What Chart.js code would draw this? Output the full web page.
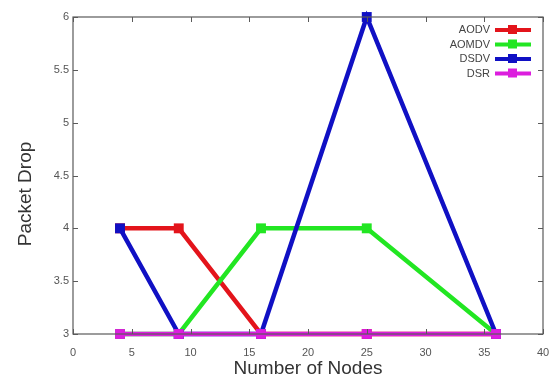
<!DOCTYPE html>
<html lang="en">
<head>
<meta charset="UTF-8">
<title>Packet Drop vs Number of Nodes</title>
<script src="https://cdn.jsdelivr.net/npm/chart.js"></script>
<style>
  html, body { margin: 0; padding: 0; background: #fff; }
  #wrap { width: 560px; height: 380px; }
</style>
</head>
<body>
<div id="wrap"><canvas id="drops" width="560" height="380"></canvas></div>
<script>
// node counts on the x axis
const nodes = [4, 9, 16, 25, 36];

// packet drop per protocol
const aodv  = [4, 4, 3, 3, 3];
const aomdv = [3, 3, 4, 4, 3];
const dsdv  = [4, 3, 3, 6, 3];
const dsr   = [3, 3, 3, 3, 3];

const protocols = ['AODV', 'AOMDV', 'DSDV', 'DSR'];
const colors = ['#e3141b', '#22e622', '#1010c4', '#dc1ede'];
const series = [aodv, aomdv, dsdv, dsr];

const xTicks = [0, 5, 10, 15, 20, 25, 30, 35, 40];
const yTicks = [3, 3.5, 4, 4.5, 5, 5.5, 6];

const tickFamily = '"Liberation Sans Narrow", "Liberation Sans", sans-serif';

// gnuplot-like frame: border with inward ticks on all four sides,
// axis titles and a right-aligned key in the top corner
const framePlugin = {
  id: 'frame',
  afterDatasetsDraw(chart) {
    const { ctx, chartArea: a, scales: { x, y } } = chart;
    ctx.save();
    ctx.strokeStyle = '#5a5a5a';
    ctx.lineWidth = 1.2;
    ctx.strokeRect(a.left, a.top, a.right - a.left, a.bottom - a.top);
    ctx.lineWidth = 1;
    ctx.beginPath();
    xTicks.forEach(v => {
      const px = Math.round(x.getPixelForValue(v)) + 0.5;
      ctx.moveTo(px, a.bottom); ctx.lineTo(px, a.bottom - 5);
      ctx.moveTo(px, a.top); ctx.lineTo(px, a.top + 5);
    });
    yTicks.forEach(v => {
      const py = Math.round(y.getPixelForValue(v)) + 0.5;
      ctx.moveTo(a.left, py); ctx.lineTo(a.left + 5, py);
      ctx.moveTo(a.right, py); ctx.lineTo(a.right - 5, py);
    });
    ctx.stroke();

    // axis titles
    ctx.fillStyle = '#333';
    ctx.font = '19px "Liberation Sans", Arial, sans-serif';
    ctx.textAlign = 'center';
    ctx.textBaseline = 'middle';
    ctx.fillText('Number of Nodes', 308, 369);
    ctx.save();
    ctx.translate(26, 194);
    ctx.rotate(-Math.PI / 2);
    ctx.fillText('Packet Drop', 0, 0);
    ctx.restore();

    // key
    ctx.font = '11px ' + tickFamily;
    ctx.textAlign = 'right';
    protocols.forEach((name, i) => {
      const ky = 30 + i * 14.5;
      ctx.fillStyle = '#444';
      ctx.fillText(name, 490, ky);
      ctx.strokeStyle = colors[i];
      ctx.lineWidth = 4;
      ctx.beginPath();
      ctx.moveTo(495, ky); ctx.lineTo(531, ky);
      ctx.stroke();
      ctx.fillStyle = colors[i];
      ctx.fillRect(508, ky - 5, 9, 9);
    });
    ctx.restore();
  }
};

new Chart(document.getElementById('drops'), {
  type: 'line',
  data: {
    datasets: protocols.map((name, i) => ({
      label: name,
      data: nodes.map((n, j) => ({ x: n, y: series[i][j] })),
      borderColor: colors[i],
      backgroundColor: colors[i],
      borderWidth: 4.5,
      pointStyle: 'rect',
      pointRadius: 7,
      pointBorderWidth: 0,
      tension: 0,
      clip: false,
      // later protocols sit on top
      order: protocols.length - i
    }))
  },
  options: {
    responsive: false,
    animation: false,
    layout: { padding: { top: 17, right: 17, left: 0, bottom: 0 } },
    plugins: {
      legend: { display: false },
      tooltip: { enabled: false }
    },
    scales: {
      x: {
        type: 'linear',
        min: 0, max: 40,
        afterBuildTicks: s => { s.ticks = xTicks.map(v => ({ value: v })); },
        afterFit: s => { s.height = 46; },
        grid: { display: false },
        border: { display: false },
        ticks: { color: '#555', font: { family: tickFamily, size: 11 }, padding: 4, callback: v => String(v) }
      },
      y: {
        min: 3, max: 6,
        afterBuildTicks: s => { s.ticks = yTicks.map(v => ({ value: v })); },
        afterFit: s => { s.width = 73; },
        grid: { display: false, tickLength: 0 },
        border: { display: false },
        ticks: { color: '#555', font: { family: tickFamily, size: 11 }, padding: 4, callback: v => String(v) }
      }
    }
  },
  plugins: [framePlugin]
});
</script>
</body>
</html>
